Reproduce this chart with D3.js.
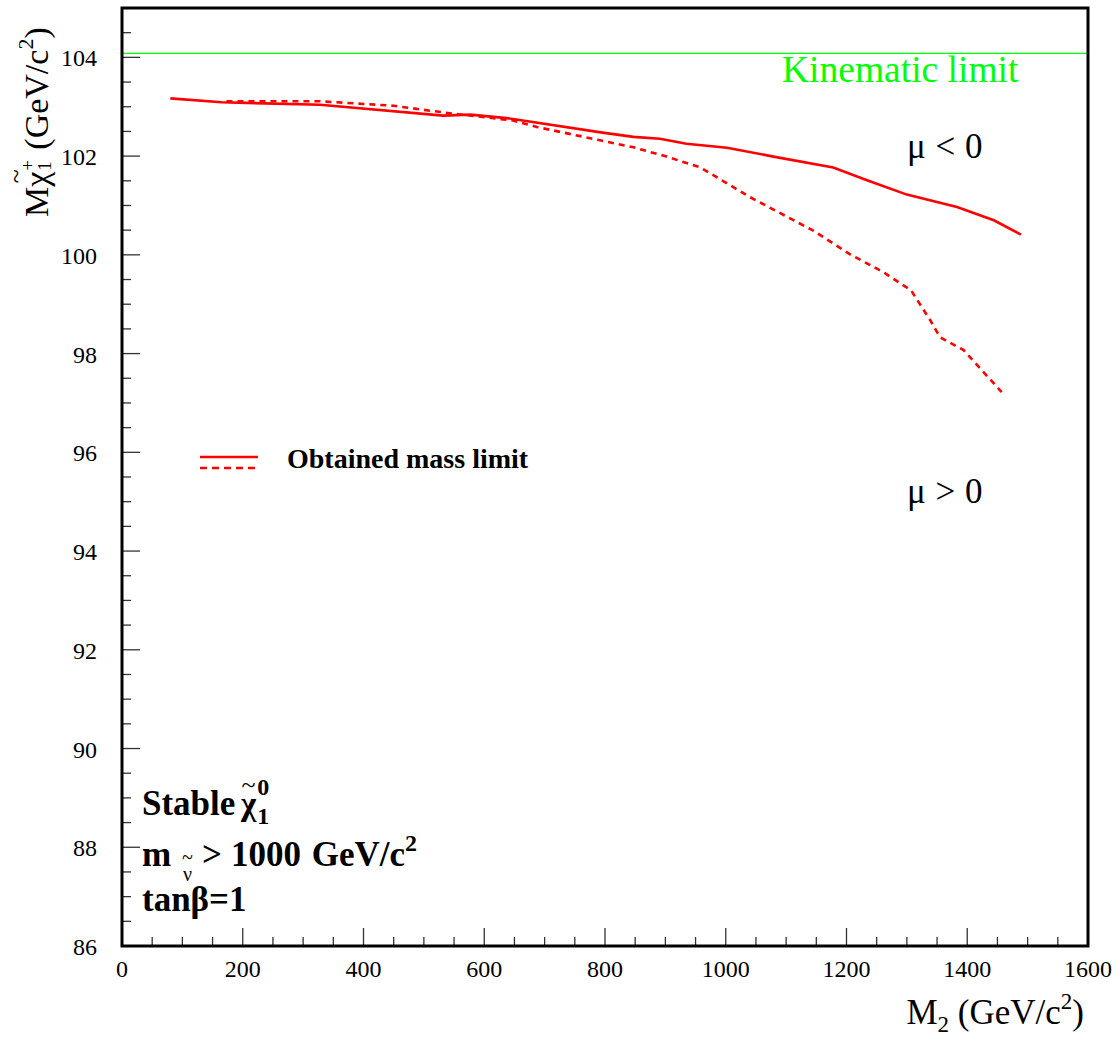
<!DOCTYPE html>
<html><head><meta charset="utf-8">
<script src="https://cdn.jsdelivr.net/npm/d3@7"></script>
<style>body{margin:0;background:#fff}svg{display:block}text{font-family:"Liberation Serif","Times New Roman",serif;white-space:pre}</style>
</head><body>
<script>
// Data
const m2MuNeg = [80,165,328,532,577,637,793,847,891,935,1002,1079,1178,1234,1300,1383,1444,1489];
const chiMuNeg = [103.17,103.09,103.04,102.82,102.84,102.77,102.48,102.39,102.35,102.25,102.17,101.99,101.77,101.51,101.22,100.97,100.70,100.41];
const m2MuPos = [173,328,450,510,549,648,687,792,847,902,958,980,1040,1145,1206,1261,1307,1339,1355,1394,1457];
const chiMuPos = [103.11,103.11,103.02,102.92,102.86,102.72,102.59,102.32,102.18,101.99,101.77,101.61,101.17,100.49,100.01,99.65,99.28,98.67,98.33,98.07,97.22];
const kinematicLimit = 104.08;
const xTickValues = [0,200,400,600,800,1000,1200,1400,1600];
const yTickValues = [86,88,90,92,94,96,98,100,102,104];

const W=1120,H=1042;
const L=122,R=1088,T=8,B=946;
const svg=d3.select("body").append("svg").attr("width",W).attr("height",H);
const x=d3.scaleLinear().domain([0,1600]).range([L,R]);
const y=d3.scaleLinear().domain([86,105]).range([B,T]);

function tw(sel){return sel.node().getComputedTextLength();}

// ticks
const g=svg.append("g");
d3.range(0,1601,50).forEach(v=>{
  const maj=v%200===0;
  g.append("line").attr("x1",x(v)).attr("x2",x(v)).attr("y1",B).attr("y2",B-(maj?18:9)).attr("stroke","#333").attr("stroke-width",1.3);
});
d3.range(86,105.01,0.5).forEach(v=>{
  const maj=Math.abs(v%2)<1e-6;
  g.append("line").attr("x1",L).attr("x2",L+(maj?18:9)).attr("y1",y(v)).attr("y2",y(v)).attr("stroke","#333").attr("stroke-width",1.3);
});
// tick labels
svg.selectAll(".xl").data(xTickValues).join("text").attr("x",d=>x(d)).attr("y",977).attr("text-anchor","middle").attr("font-size",24).text(d=>d);
svg.selectAll(".yl").data(yTickValues).join("text").attr("x",97).attr("y",d=>y(d)+9).attr("text-anchor","end").attr("font-size",24).text(d=>d);

// kinematic limit
svg.append("line").attr("x1",L).attr("x2",R).attr("y1",y(kinematicLimit)).attr("y2",y(kinematicLimit)).attr("stroke","#00ff00").attr("stroke-width",1.3);
svg.append("text").attr("x",782).attr("y",82).attr("fill","#00ff00").attr("font-size",37.5).text("Kinematic limit");

// curves
const line=d3.line().x(d=>x(d[0])).y(d=>y(d[1]));
svg.append("path").datum(m2MuNeg.map((v,i)=>[v,chiMuNeg[i]])).attr("d",line).attr("fill","none").attr("stroke","#ff0000").attr("stroke-width",2.6);
svg.append("path").datum(m2MuPos.map((v,i)=>[v,chiMuPos[i]])).attr("d",line).attr("fill","none").attr("stroke","#ff0000").attr("stroke-width",2.6).attr("stroke-dasharray","6,5");

// frame
svg.append("rect").attr("x",L).attr("y",T).attr("width",R-L).attr("height",B-T).attr("fill","none").attr("stroke","#000").attr("stroke-width",3);

// mu labels
svg.append("text").attr("x",907).attr("y",158).attr("font-size",35).attr("word-spacing",1).text("μ < 0");
svg.append("text").attr("x",907).attr("y",503).attr("font-size",35).attr("word-spacing",1).text("μ > 0");

// legend
svg.append("line").attr("x1",200).attr("x2",258).attr("y1",457).attr("y2",457).attr("stroke","#ff0000").attr("stroke-width",2.6);
svg.append("line").attr("x1",200).attr("x2",258).attr("y1",468).attr("y2",468).attr("stroke","#ff0000").attr("stroke-width",2.6).attr("stroke-dasharray","7,5");
svg.append("text").attr("x",287).attr("y",468).attr("font-size",28).attr("font-weight","bold").text("Obtained mass limit");

// bottom-left annotation
const ann=svg.append("g").attr("font-weight","bold");
ann.append("text").attr("x",142).attr("y",815).attr("font-size",35).text("Stable");
const chi1=ann.append("text").attr("x",241).attr("y",815).attr("font-size",33).text("χ");
const wc=tw(chi1);
ann.append("text").attr("x",241+wc/2).attr("y",793).attr("text-anchor","middle").attr("font-size",26).attr("font-weight","normal").text("~");
ann.append("text").attr("x",241+wc+1).attr("y",824).attr("font-size",24).text("1");
ann.append("text").attr("x",241+wc+1).attr("y",795).attr("font-size",24).text("0");

ann.append("text").attr("x",142).attr("y",866).attr("font-size",35).text("m");
const nu=ann.append("text").attr("x",183).attr("y",881).attr("font-size",20).attr("font-weight","normal").text("ν");
const wn=tw(nu);
ann.append("text").attr("x",183+wn/2).attr("y",864).attr("text-anchor","middle").attr("font-size",20).attr("font-weight","normal").text("~");
ann.append("text").attr("x",202).attr("y",866).attr("font-size",35).text(">");
const a2b=ann.append("text").attr("x",231).attr("y",866).attr("font-size",35).attr("word-spacing",2);
a2b.append("tspan").text("1000 GeV/c");
a2b.append("tspan").attr("font-size",24).attr("dy",-15).text("2");
ann.append("text").attr("x",142).attr("y",911).attr("font-size",35).text("tanβ=1");

// x title
const xt=svg.append("text").attr("x",1084).attr("y",1024).attr("text-anchor","end").attr("font-size",35);
xt.append("tspan").text("M");
xt.append("tspan").attr("font-size",23).attr("dy",8).text("2");
xt.append("tspan").attr("dy",-8).text(" (GeV/c");
xt.append("tspan").attr("font-size",23).attr("dy",-15).text("2");
xt.append("tspan").attr("dy",15).text(")");

// y title (rotated)
const yg=svg.append("g").attr("transform","translate(48,217) rotate(-90)");
const yt1=yg.append("text").attr("x",0).attr("y",0).attr("font-size",34).text("Mχ");
const wy1=tw(yt1);
const yM=yg.append("text").attr("x",-1000).attr("y",0).attr("font-size",34).text("M");
const wM=tw(yM); yM.remove();
const wChi=wy1-wM;
yg.append("text").attr("x",wM+wChi/2+3).attr("y",-24).attr("text-anchor","middle").attr("font-size",26).text("~");
yg.append("text").attr("x",wy1+1).attr("y",3).attr("font-size",19).text("1");
yg.append("text").attr("x",wy1+1).attr("y",-14).attr("font-size",19).text("+");
const yt2=yg.append("text").attr("x",wy1+22).attr("y",0).attr("font-size",34);
yt2.append("tspan").text("(GeV/c");
yt2.append("tspan").attr("font-size",22).attr("dy",-15).text("2");
yt2.append("tspan").attr("dy",15).text(")");
</script>
</body></html>
